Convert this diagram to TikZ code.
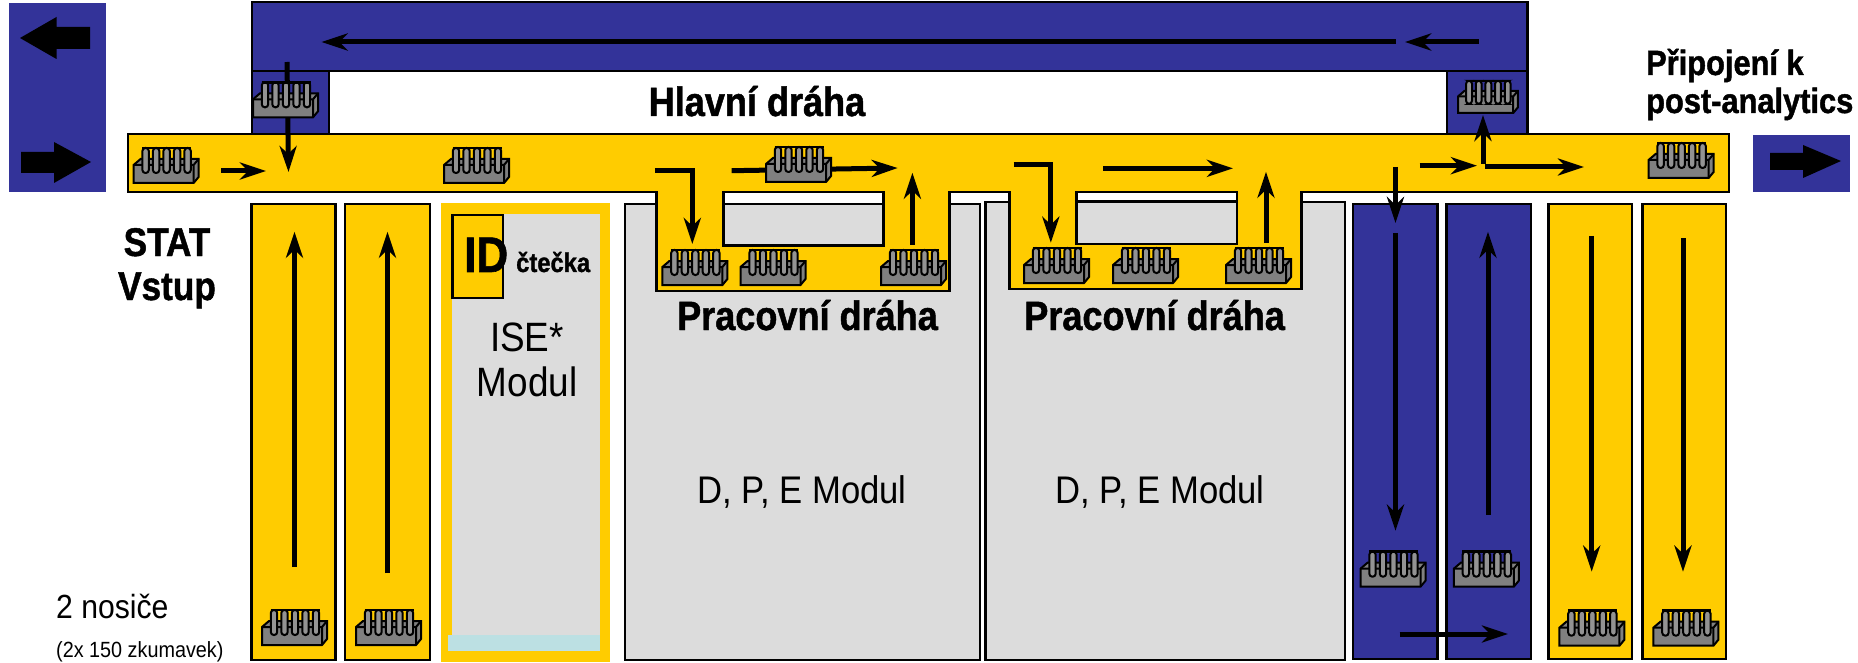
\documentclass[tikz,border=0pt]{standalone}
\usepackage{fontspec}
\setmainfont{Liberation Sans}
\newfontfamily\narrowfont[FakeStretch=0.9]{Liberation Sans}
\newfontfamily\headfont[FakeStretch=0.88,FakeBold=1.2]{Liberation Sans Bold}
\usetikzlibrary{arrows.meta}
\definecolor{railyellow}{HTML}{FFCC00}
\definecolor{railblue}{HTML}{333399}
\definecolor{modulegray}{HTML}{DCDCDC}
\definecolor{rackgray}{HTML}{808080}
\definecolor{stripblue}{HTML}{BCE0E3}
\tikzstyle{yellowrail} = [draw=black, line width=2.5pt, fill=railyellow]
\tikzstyle{bluerail} = [draw=black, line width=2.5pt, fill=railblue]
\tikzstyle{moduleblock} = [draw=black, line width=2.5pt, fill=modulegray]
\tikzstyle{flow} = [->, line width=5pt]
\tikzstyle{bigarrow} = [fill=black, draw=none]
\tikzstyle{heading} = [font=\headfont\fontsize{41pt}{46pt}\selectfont, inner sep=0pt]
\tikzstyle{plain} = [font=\narrowfont\fontsize{38.5pt}{44pt}\selectfont, inner sep=0pt]
\tikzset{
  rack/.pic={
    \draw[line width=2pt, fill=rackgray] (0,0) -- (60,0) -- (65,-6) -- (65,-24) -- (7,-24) -- (0,-18) -- cycle;
    \draw[line width=2pt] (0,-18) -- (60,-18) -- (60,0) (60,-18) -- (65,-24);
    \foreach \tube in {12,22.5,33,43.5,54}
      \draw[line width=2pt, fill=rackgray!85!white, rounded corners=3pt] (\tube-3.2,-35) -- (\tube-3.2,-10) -- (\tube+3.2,-10) -- (\tube+3.2,-35) -- cycle;
    \draw[line width=2.5pt] (8.5,-35) -- (57.5,-35);
  }
}
\begin{document}
\begin{tikzpicture}[x=1pt, y=-1pt, >={Stealth[length=26pt,width=17pt,inset=8pt]}]
    \useasboundingbox (0,0) rectangle (1858,663);
    % Outer blue boxes
    \fill[railblue] (9,3) rectangle (106,192);
    \fill[railblue] (1753,135) rectangle (1850,192.5);
    \fill[bigarrow] (90,27) -- (56.5,27) -- (56.5,17) -- (20,38) -- (56.5,59) -- (56.5,49) -- (90,49) -- cycle;
    \fill[bigarrow] (21,152) -- (54,152) -- (54,142) -- (91,162) -- (54,183) -- (54,173) -- (21,173) -- cycle;
    \fill[bigarrow] (1770,153) -- (1803,153) -- (1803,145) -- (1841,161) -- (1803,178) -- (1803,170) -- (1770,170) -- cycle;
    % Main line return
    \draw[bluerail] (252,2) rectangle (1527.5,71);
    \draw[bluerail] (252,71) rectangle (329,134);
    \draw[bluerail] (1447,71) rectangle (1527.5,134);
    % Modules
    \draw[moduleblock] (625,204) rectangle (980,660);
    \draw[moduleblock] (985.5,202) rectangle (1345,660);
    % ISE module
    \fill[railyellow] (441,203) rectangle (610,662);
    \fill[modulegray] (452,214) rectangle (600,651);
    \fill[stripblue] (448,635) rectangle (600,651);
    \draw[yellowrail] (452.7,215) rectangle (503,298);
    % Main line with processing lines
    \draw[yellowrail] (128,134) -- (1729,134) -- (1729,192) -- (1301.7,192) -- (1301.7,289) -- (1009.7,289) -- (1009.7,192) -- (949.4,192) -- (949.4,291) -- (656.6,291) -- (656.6,192) -- (128,192) -- cycle;
    \draw[moduleblock] (723.6,192) rectangle (883.4,245.7);
    \draw[draw=black, line width=2.5pt, fill=white] (723.6,192) rectangle (883.4,204);
    \draw[moduleblock] (1076.7,192) rectangle (1237,244);
    \draw[draw=black, line width=2.5pt, fill=white] (1076.7,192) rectangle (1237,201.7);
    % Carriers
    \draw[yellowrail] (251.5,204) rectangle (335.7,660);
    \draw[yellowrail] (344.8,204) rectangle (429.8,660);
    \draw[bluerail] (1353,204) rectangle (1437.3,659);
    \draw[bluerail] (1446.6,204) rectangle (1531,659);
    \draw[yellowrail] (1548.5,204) rectangle (1632,659);
    \draw[yellowrail] (1642.5,204) rectangle (1726,659);
    % Flow arrows
    \draw[flow] (1396,42) -- (321.5,42);
    \draw[flow] (1478.5,42) -- (1405,42);
    \draw[flow] (287,62) -- (288.5,172);
    \draw[flow] (221,171) -- (266,171);
    \draw[flow] (654.8,171) -- (692.3,171) -- (692.3,244);
    \draw[flow] (912.4,245) -- (912.4,172.7);
    \draw[flow] (731.6,170.7) -- (897.7,168);
    \draw[flow] (1013.7,165) -- (1050.8,165) -- (1050.8,242.7);
    \draw[flow] (1103,168.3) -- (1233,168.3);
    \draw[flow] (1266,243) -- (1266,171.7);
    \draw[flow] (1395.5,167) -- (1395.5,223);
    \draw[flow] (1395.5,233) -- (1395.5,530.7);
    \draw[flow] (1488,515) -- (1488,231.7);
    \draw[flow] (1419.5,165.7) -- (1477,165.7);
    \draw[flow] (1483,164) -- (1483,115);
    \draw[flow] (1485,167) -- (1584,167);
    \draw[flow] (1591.7,236) -- (1591.7,571.7);
    \draw[flow] (1683,238.3) -- (1683,571.7);
    \draw[flow] (1399.6,634) -- (1508,634);
    \draw[flow] (294.5,567) -- (294.5,231.7);
    \draw[flow] (387.5,573) -- (387.5,231.7);
    % Racks
    \foreach \rx/\ry in {133.6/183, 444/183, 253/117.3, 1648.6/178, 766/182, 662.4/285, 740.5/285, 881/285, 1024/283, 1113/283, 1226/283, 262/645, 356/645, 1360.5/586.7, 1453.8/586.7, 1559.4/645.7, 1653.4/645.7}
      \pic at (\rx,\ry) {rack};
    \pic[scale=0.92] at (1458,113) {rack};
    % Labels
    \node[heading] [anchor=base] (main) at (757,116) {Hlavní dráha};
    \node[heading, anchor=base] (work1) at (807.5,330) {Pracovní dráha};
    \node[heading, anchor=base] (work2) at (1154.6,330) {Pracovní dráha};
    \node[heading, anchor=base west, font=\headfont\fontsize{35pt}{38pt}\selectfont] (post1) at (1646,75) {Připojení k};
    \node[heading, anchor=base west, font=\headfont\fontsize{35pt}{38pt}\selectfont] (post2) at (1646,113) {post-analytics};
    \node[heading, anchor=base, font=\headfont\fontsize{40pt}{44pt}\selectfont] (stat) at (167,256) {STAT};
    \node[heading, anchor=base, font=\headfont\fontsize{40pt}{44pt}\selectfont] (vstup) at (167,300) {Vstup};
    \node[heading, anchor=base west, font=\headfont\fontsize{50pt}{54pt}\selectfont] (id) at (464,272) {ID};
    \node[heading, anchor=base west, font=\headfont\fontsize{27pt}{30pt}\selectfont] (reader) at (516,272) {čtečka};
    \node[plain, anchor=base, font=\narrowfont\fontsize{41pt}{46pt}\selectfont] (ise) at (527,351) {ISE*};
    \node[plain, anchor=base, font=\narrowfont\fontsize{41pt}{46pt}\selectfont] (ise2) at (527,396) {Modul};
    \node[plain, anchor=base] (dpe1) at (802,503) {D, P, E Modul};
    \node[plain, anchor=base] (dpe2) at (1160,503) {D, P, E Modul};
    \node[plain, anchor=base west, font=\narrowfont\fontsize{33.5pt}{38pt}\selectfont] (count) at (56,618) {2 nosiče};
    \node[plain, anchor=base west, font=\narrowfont\fontsize{22pt}{26pt}\selectfont] (tubes) at (56,657) {(2x 150 zkumavek)};
\end{tikzpicture}
\end{document}
